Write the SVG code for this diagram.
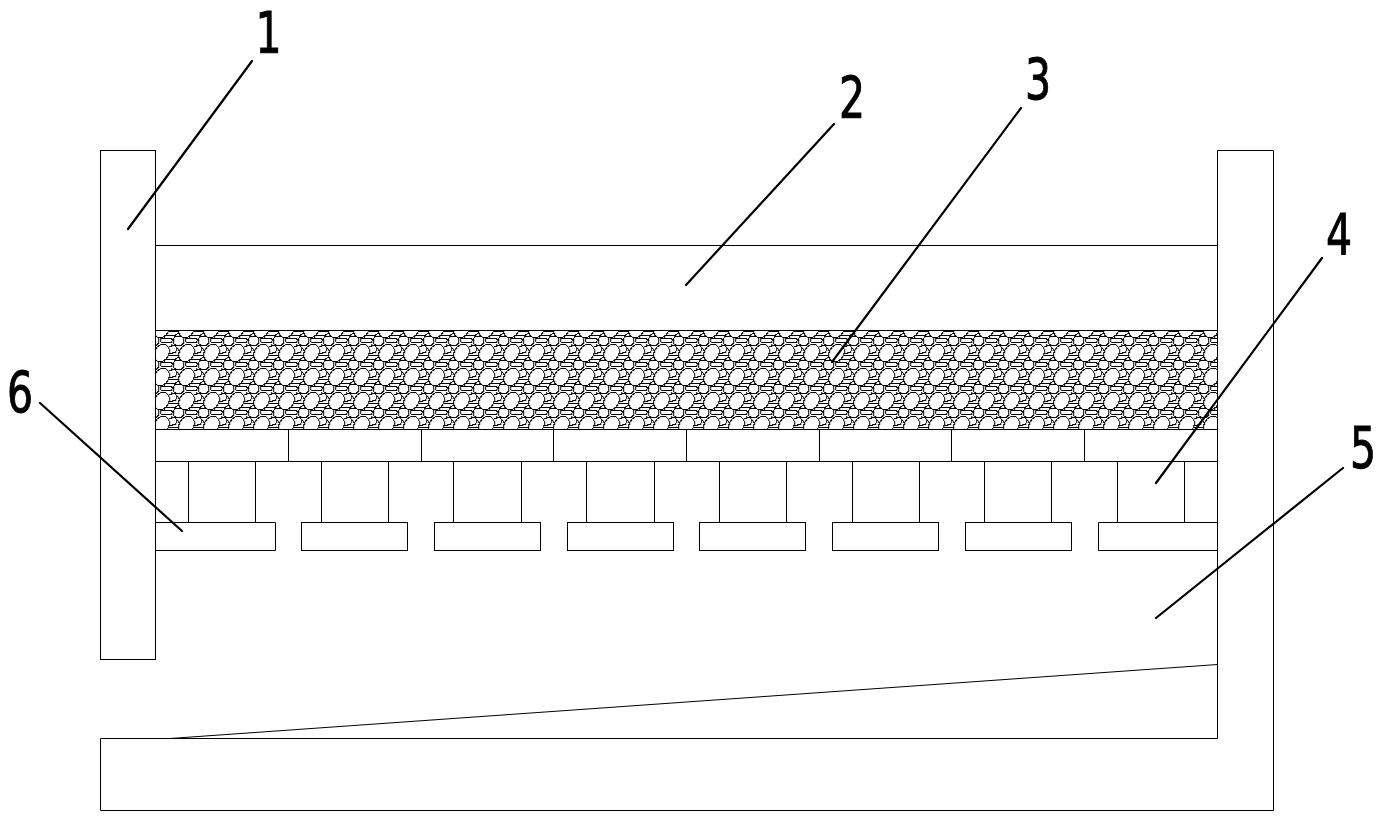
<svg xmlns="http://www.w3.org/2000/svg" width="1384" height="816" viewBox="0 0 1384 816">
<style>
.s{fill:none;stroke:#000;stroke-width:1}
.w{fill:#fff;stroke:#000;stroke-width:1;shape-rendering:crispEdges}
.g{fill:none;stroke:#000;stroke-width:1;shape-rendering:crispEdges}
.c{fill:none;stroke:#000;stroke-width:2.200;stroke-linecap:round}
.t{font-family:"DejaVu Sans",sans-serif;font-size:57px;fill:#000;stroke:#000;stroke-width:1}
</style>
<defs>
<g id="stones">
<path class="g" d="M-1 4L3 7L7 12M11 1L16 -3M22 3L25 7M1 14L5 17L8 22M16 20L13 25M8 22L4 27M10 20L15 24M0 21L-3 24M25 21L22 24"/>
<path class="w" d="M1.500 -5L7 -5L10 -2L9.500 2L7 4.500L2 4.500L-1 2L-1 -2Z"/>
<path class="w" d="M1.500 19L7 19L10 22L9.500 26L7 28.500L2 28.500L-1 26L-1 22Z"/>
<path class="w" d="M26.500 19L32 19L35 22L34.500 26L32 28.500L27 28.500L24 26L24 22Z"/>
<path class="w" d="M26.500 -5L32 -5L35 -2L34.500 2L32 4.500L27 4.500L24 2L24 -2Z"/>
<path class="w" d="M12.500 -3L22 -3L23.500 -1L22 1.500L13 1.500L11 0Z"/>
<path class="w" d="M12.500 21L22 21L23.500 23L22 25.500L13 25.500L11 24Z"/>
<path class="w" d="M18 14L29 14L29 16L26 18.500L16 18.500L15 17Z"/>
<path class="w" d="M-7 14L4 14L4 16L1 18.500L-9 18.500L-10 17Z"/>
<path class="w" d="M20.500 5.500L26 4.500L28 8L26 11.500L21 12.500L18.500 9Z"/>
<path class="w" d="M-4.500 5.500L1 4.500L3 8L1 11.500L-4 12.500L-6.500 9Z"/>
<ellipse class="w" cx="12.500" cy="12" rx="7.200" ry="9.300" transform="rotate(30 12.500 12)"/>
</g>
<pattern id="gravel" patternUnits="userSpaceOnUse" x="174.200" y="341" width="25" height="24">
<rect width="25" height="24" fill="#fff"/>
<use href="#stones"/>
</pattern>
</defs>
<rect width="1384" height="816" fill="#fff"/>

<g id="node-1">
<rect class="s" x="100.500" y="150.500" width="55" height="509"/>
<text class="t" transform="translate(255.500 53) scale(.72 1)">1</text>
</g>

<g id="node-2">
<path class="s" d="M155.500 245.500H1217.500"/>
<text class="t" transform="translate(839 118) scale(.72 1)">2</text>
</g>

<g id="node-3">
<rect x="155.500" y="330.500" width="1062" height="99" fill="url(#gravel)" stroke="#000" stroke-width="1"/>
<text class="t" transform="translate(1025 100) scale(.72 1)">3</text>
</g>

<g id="node-4">
<path class="s" d="M155.500 461.500H1217.500M288.500 429.500V461.500M421.500 429.500V461.500M553.500 429.500V461.500M686.500 429.500V461.500M819.500 429.500V461.500M951.500 429.500V461.500M1084.500 429.500V461.500"/>
<path class="s" d="M188.500 461.500V522.500M255.500 461.500V522.500M321.500 461.500V522.500M388.500 461.500V522.500M453.500 461.500V522.500M521.500 461.500V522.500M586.500 461.500V522.500M654.500 461.500V522.500M719.500 461.500V522.500M786.500 461.500V522.500M852.500 461.500V522.500M919.500 461.500V522.500M984.500 461.500V522.500M1051.500 461.500V522.500M1117.500 461.500V522.500M1184.500 461.500V522.500"/>
<text class="t" transform="translate(1326 255) scale(.72 1)">4</text>
</g>

<g id="node-5">
<path class="s" d="M1217.500 150.500H1273.500V810.500H100.500V738.500H1217.500Z"/>
<path class="s" d="M170 738.500L1217.500 664.500"/>
<text class="t" transform="translate(1350 468) scale(.72 1)">5</text>
</g>

<g id="node-6">
<path class="s" d="M155.500 522.500H275.500V550.500H155.500"/>
<rect class="s" x="301.500" y="522.500" width="106" height="28"/>
<rect class="s" x="434.500" y="522.500" width="106" height="28"/>
<rect class="s" x="567.500" y="522.500" width="106" height="28"/>
<rect class="s" x="699.500" y="522.500" width="106" height="28"/>
<rect class="s" x="832.500" y="522.500" width="106" height="28"/>
<rect class="s" x="965.500" y="522.500" width="106" height="28"/>
<path class="s" d="M1217.500 522.500H1098.500V550.500H1217.500"/>
<text class="t" transform="translate(7 413) scale(.72 1)">6</text>
</g>

<g id="connectors">
<path class="c" d="M252 61L128 229"/>
<path class="c" d="M834 124L686 285"/>
<path class="c" d="M1021 108L832 362"/>
<path class="c" d="M1322 258L1156 483"/>
<path class="c" d="M1343 468L1156 618"/>
<path class="c" d="M40 403L182 531"/>
</g>
</svg>
